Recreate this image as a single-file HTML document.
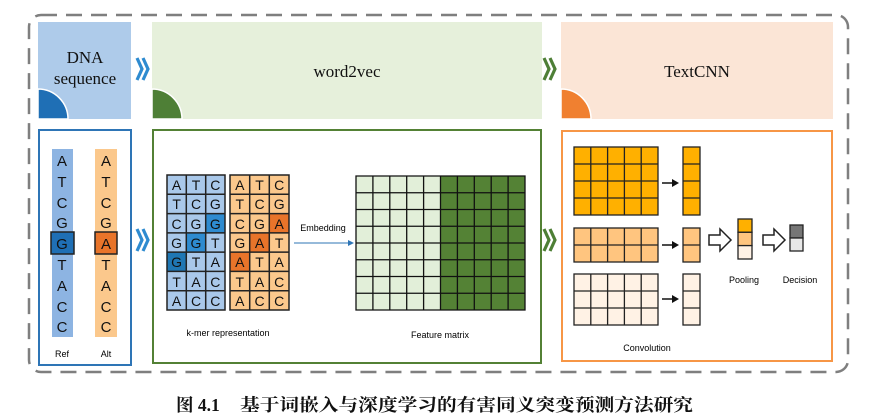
<!DOCTYPE html>
<html><head><meta charset="utf-8"><style>
html,body{margin:0;padding:0;background:#fff;}
svg{display:block;}
.s{font-family:"Liberation Sans",sans-serif;}
.r{font-family:"Liberation Serif",serif;}
</style></head><body>
<svg width="891" height="420" viewBox="0 0 891 420" xmlns="http://www.w3.org/2000/svg">
<rect x="29" y="15" width="819" height="357" rx="12" fill="none" stroke="#7f7f7f" stroke-width="2.5" stroke-dasharray="16,9"/>
<rect x="38" y="22" width="93" height="97" fill="#aecbea"/>
<path d="M38 119 V89 A30 30 0 0 1 68 119 Z" fill="#1f6fb5" stroke="#fff" stroke-width="1.5"/>
<text x="85" y="63" class="r" font-size="17" text-anchor="middle" fill="#111">DNA</text>
<text x="85" y="84" class="r" font-size="17" text-anchor="middle" fill="#111">sequence</text>
<rect x="152" y="22" width="390" height="97" fill="#e6f0db"/>
<path d="M152 119 V89 A30 30 0 0 1 182 119 Z" fill="#4e7f36" stroke="#fff" stroke-width="1.5"/>
<text x="347" y="77" class="r" font-size="17" text-anchor="middle" fill="#111">word2vec</text>
<rect x="561" y="22" width="272" height="97" fill="#fbe5d6"/>
<path d="M561 119 V89 A30 30 0 0 1 591 119 Z" fill="#f08030" stroke="#fff" stroke-width="1.5"/>
<text x="697" y="77" class="r" font-size="17" text-anchor="middle" fill="#111">TextCNN</text>
<g fill="none" stroke-width="3.2" stroke-linejoin="miter">
<path d="M137 58 L142 69 L137 80 M143 58 L148 69 L143 80" stroke="#2e8bd0"/>
<path d="M137 229 L142 240 L137 251 M143 229 L148 240 L143 251" stroke="#2e8bd0"/>
<path d="M544 58 L549 69 L544 80 M550 58 L555 69 L550 80" stroke="#4e7f36"/>
<path d="M544 229 L549 240 L544 251 M550 229 L555 240 L550 251" stroke="#4e7f36"/>
</g>
<rect x="39" y="130" width="92" height="235" fill="#fff" stroke="#2e75b6" stroke-width="2"/>
<rect x="153" y="130" width="388" height="233" fill="#fff" stroke="#538135" stroke-width="2"/>
<rect x="562" y="131" width="270" height="230" fill="#fff" stroke="#f79646" stroke-width="2"/>
<rect x="52" y="149" width="21" height="188" fill="#8db4e2"/>
<rect x="95" y="149" width="22" height="188" fill="#fbc88c"/>
<rect x="51" y="232" width="23" height="22" fill="#1f6fb5" stroke="#222" stroke-width="1.5"/>
<rect x="95" y="232" width="22" height="22" fill="#e8742a" stroke="#222" stroke-width="1.5"/>
<g class="s" font-size="15" text-anchor="middle" fill="#111">
<text x="62" y="166">A</text><text x="62" y="187">T</text><text x="62" y="208">C</text><text x="62" y="228">G</text><text x="62" y="249">G</text><text x="62" y="270">T</text><text x="62" y="291">A</text><text x="62" y="312">C</text><text x="62" y="332">C</text>
<text x="106" y="166">A</text><text x="106" y="187">T</text><text x="106" y="208">C</text><text x="106" y="228">G</text><text x="106" y="249">A</text><text x="106" y="270">T</text><text x="106" y="291">A</text><text x="106" y="312">C</text><text x="106" y="332">C</text>
</g>
<text x="62" y="357" class="s" font-size="9" text-anchor="middle">Ref</text>
<text x="106" y="357" class="s" font-size="9" text-anchor="middle">Alt</text>
<rect x="167" y="175" width="58" height="135" fill="#a9c8ea"/>
<rect x="205.7" y="213.6" width="19.3" height="19.3" fill="#2e8bd0"/>
<rect x="186.3" y="232.9" width="19.4" height="19.2" fill="#2e8bd0"/>
<rect x="167" y="252.1" width="19.3" height="19.3" fill="#1f77b4"/>
<path d="M167 175H225V310H167Z M186.3 175V310 M205.7 175V310 M167 194.3H225 M167 213.6H225 M167 232.9H225 M167 252.1H225 M167 271.4H225 M167 290.7H225" fill="none" stroke="#222" stroke-width="1.5"/>
<rect x="230" y="175" width="59" height="135" fill="#fbc88c"/>
<rect x="269.3" y="213.6" width="19.7" height="19.3" fill="#e8742a"/>
<rect x="249.7" y="232.9" width="19.6" height="19.2" fill="#e8742a"/>
<rect x="230" y="252.1" width="19.7" height="19.3" fill="#e8742a"/>
<path d="M230 175H289V310H230Z M249.7 175V310 M269.3 175V310 M230 194.3H289 M230 213.6H289 M230 232.9H289 M230 252.1H289 M230 271.4H289 M230 290.7H289" fill="none" stroke="#222" stroke-width="1.5"/>
<g class="s" font-size="14" text-anchor="middle" fill="#111">
<text x="176.6" y="190">A</text><text x="196" y="190">T</text><text x="215.3" y="190">C</text>
<text x="176.6" y="209">T</text><text x="196" y="209">C</text><text x="215.3" y="209">G</text>
<text x="176.6" y="229">C</text><text x="196" y="229">G</text><text x="215.3" y="229">G</text>
<text x="176.6" y="248">G</text><text x="196" y="248">G</text><text x="215.3" y="248">T</text>
<text x="176.6" y="267">G</text><text x="196" y="267">T</text><text x="215.3" y="267">A</text>
<text x="176.6" y="287">T</text><text x="196" y="287">A</text><text x="215.3" y="287">C</text>
<text x="176.6" y="306">A</text><text x="196" y="306">C</text><text x="215.3" y="306">C</text>
<text x="239.8" y="190">A</text><text x="259.5" y="190">T</text><text x="279.2" y="190">C</text>
<text x="239.8" y="209">T</text><text x="259.5" y="209">C</text><text x="279.2" y="209">G</text>
<text x="239.8" y="229">C</text><text x="259.5" y="229">G</text><text x="279.2" y="229">A</text>
<text x="239.8" y="248">G</text><text x="259.5" y="248">A</text><text x="279.2" y="248">T</text>
<text x="239.8" y="267">A</text><text x="259.5" y="267">T</text><text x="279.2" y="267">A</text>
<text x="239.8" y="287">T</text><text x="259.5" y="287">A</text><text x="279.2" y="287">C</text>
<text x="239.8" y="306">A</text><text x="259.5" y="306">C</text><text x="279.2" y="306">C</text>
</g>
<text x="228" y="336" class="s" font-size="9" text-anchor="middle">k-mer representation</text>
<line x1="294" y1="243" x2="350" y2="243" stroke="#2e75b6" stroke-width="1"/>
<path d="M354 243 L348 240 L348 246 Z" fill="#2e75b6"/>
<text x="323" y="231" class="s" font-size="9" text-anchor="middle">Embedding</text>
<rect x="356" y="176" width="84.5" height="134" fill="#e2efd9"/>
<rect x="440.5" y="176" width="84.5" height="134" fill="#548235"/>
<path d="M356 176H525V310H356Z M372.9 176V310 M389.8 176V310 M406.7 176V310 M423.6 176V310 M440.5 176V310 M457.4 176V310 M474.3 176V310 M491.2 176V310 M508.1 176V310 M356 192.75H525 M356 209.5H525 M356 226.25H525 M356 243H525 M356 259.75H525 M356 276.5H525 M356 293.25H525" fill="none" stroke="#111" stroke-width="1.3"/>
<text x="440" y="338" class="s" font-size="9" text-anchor="middle">Feature matrix</text>
<g stroke="#222" stroke-width="1.3">
<rect x="574" y="147" width="84" height="68" fill="#ffb000"/>
<path d="M590.8 147V215 M607.6 147V215 M624.4 147V215 M641.2 147V215 M574 164H658 M574 181H658 M574 198H658" fill="none"/>
<rect x="683" y="147" width="17" height="68" fill="#ffb000"/>
<path d="M683 164H700 M683 181H700 M683 198H700" fill="none"/>
<rect x="574" y="228" width="84" height="34" fill="#ffc57f"/>
<path d="M590.8 228V262 M607.6 228V262 M624.4 228V262 M641.2 228V262 M574 245H658" fill="none"/>
<rect x="683" y="228" width="17" height="34" fill="#ffc57f"/>
<path d="M683 245H700" fill="none"/>
<rect x="574" y="274" width="84" height="51" fill="#fff2e5"/>
<path d="M590.8 274V325 M607.6 274V325 M624.4 274V325 M641.2 274V325 M574 291H658 M574 308H658" fill="none"/>
<rect x="683" y="274" width="17" height="51" fill="#fff2e5"/>
<path d="M683 291H700 M683 308H700" fill="none"/>
<rect x="738" y="219" width="14" height="13.3" fill="#ffb000"/>
<rect x="738" y="232.3" width="14" height="13.3" fill="#ffc57f"/>
<rect x="738" y="245.6" width="14" height="13.4" fill="#fff2e5"/>
<rect x="790" y="225" width="13" height="13" fill="#767676"/>
<rect x="790" y="238" width="13" height="13" fill="#e8e8e8"/>
</g>
<g fill="#111">
<path d="M662 183H674" stroke="#111" stroke-width="1.5"/><path d="M679 183L672 179V187Z"/>
<path d="M662 245H674" stroke="#111" stroke-width="1.5"/><path d="M679 245L672 241V249Z"/>
<path d="M662 299H674" stroke="#111" stroke-width="1.5"/><path d="M679 299L672 295V303Z"/>
</g>
<path d="M709 235H720V229L731 240L720 251V245H709Z" fill="#fff" stroke="#222" stroke-width="1.5"/>
<path d="M763 235H774V229L785 240L774 251V245H763Z" fill="#fff" stroke="#222" stroke-width="1.5"/>
<text x="744" y="283" class="s" font-size="9" text-anchor="middle">Pooling</text>
<text x="800" y="283" class="s" font-size="9" text-anchor="middle">Decision</text>
<text x="647" y="351" class="s" font-size="9" text-anchor="middle">Convolution</text>
<g font-family="Liberation Serif,'Noto Serif CJK SC',serif" font-weight="bold" font-size="17.5" fill="#111">
<text x="176" y="411">图 4.1</text>
<text x="693" y="411" text-anchor="end" textLength="453" lengthAdjust="spacingAndGlyphs">基于词嵌入与深度学习的有害同义突变预测方法研究</text>
</g>
</svg>
</body></html>
